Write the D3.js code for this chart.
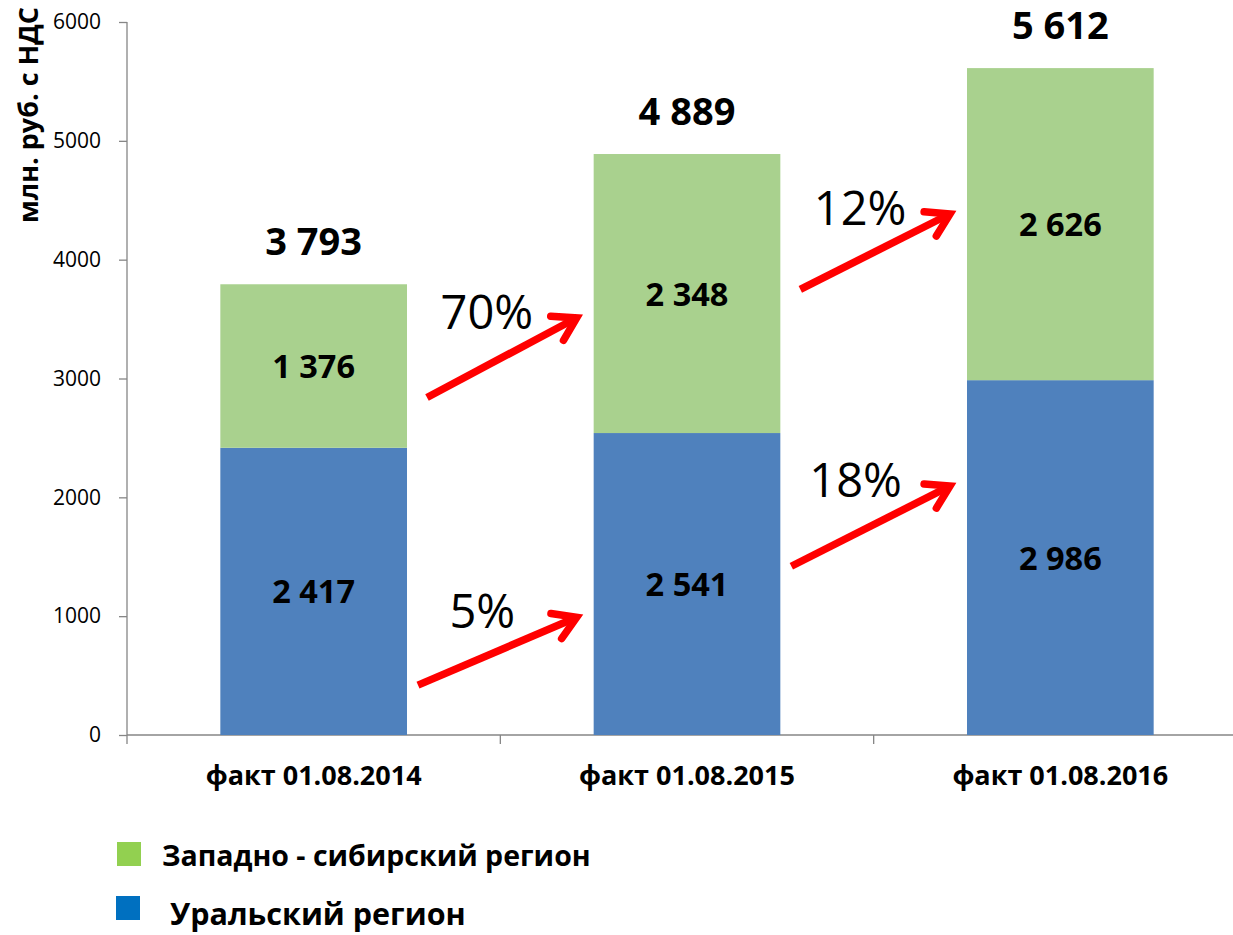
<!DOCTYPE html>
<html>
<head>
<meta charset="utf-8">
<script src="https://cdn.jsdelivr.net/npm/d3@7"></script>
<style>
  body { margin: 0; background: #fff; }
  svg { display: block; font-family: "Open Sans", "Noto Sans", sans-serif; }
</style>
</head>
<body>
<div id="chart"></div>
<script>
// data
const categories = ['факт 01.08.2014', 'факт 01.08.2015', 'факт 01.08.2016'];
const ural = [2417, 2541, 2986];
const westSib = [1376, 2348, 2626];
const totals = [3793, 4889, 5612];
const yTicks = [0, 1000, 2000, 3000, 4000, 5000, 6000];

// growth arrows: between category i and i+1, start / end value on the y scale
const arrowFrom = [0, 0, 1, 1];
const arrowY0 = [420, 2840, 1420, 3750];
const arrowY1 = [990, 3510, 2095, 4385];
const arrowLabels = ['5%', '70%', '18%', '12%'];

const W = 1233, H = 935;
const margin = {top: 22, right: -14, bottom: 200, left: 127};

const svg = d3.select('#chart').append('svg')
  .attr('width', W).attr('height', H);

const x = d3.scaleBand().domain(categories)
  .range([margin.left, W - margin.right]).paddingInner(0.5).paddingOuter(0.25);
const y = d3.scaleLinear().domain([0, 6000]).range([H - margin.bottom, margin.top]);

const fmt = v => d3.format(',')(v).replace(/,/g, ' ');

// y axis
const yAxis = svg.append('g')
  .attr('transform', 'translate(' + margin.left + ',0)')
  .call(d3.axisLeft(y).tickValues(yTicks).tickSize(8).tickPadding(18).tickFormat(d3.format('d')));
yAxis.select('.domain').attr('stroke', '#868686').attr('stroke-width', 1.3)
  .attr('d', 'M0,' + y(6000) + 'V' + y(0));
yAxis.selectAll('.tick line').attr('stroke', '#868686').attr('stroke-width', 1.3);
yAxis.selectAll('.tick text').attr('font-size', 21).attr('fill', '#000')
  .attr('font-family', '"Open Sans", sans-serif');

// x axis
const xStep = x.step();
const xAxisG = svg.append('g').attr('transform', 'translate(0,' + y(0) + ')');
xAxisG.append('line').attr('x1', margin.left).attr('x2', W)
  .attr('stroke', '#868686').attr('stroke-width', 1.3);
xAxisG.selectAll('line.tk').data(d3.range(categories.length))
  .join('line').attr('class', 'tk')
  .attr('x1', i => x(categories[i]) - xStep * 0.25)
  .attr('x2', i => x(categories[i]) - xStep * 0.25)
  .attr('y1', 0).attr('y2', 9)
  .attr('stroke', '#868686').attr('stroke-width', 1.3);
xAxisG.selectAll('text').data(categories).join('text')
  .attr('x', d => x(d) + x.bandwidth() / 2).attr('y', 50)
  .attr('text-anchor', 'middle').attr('font-size', 27).attr('font-weight', 'bold')
  .text(d => d);

// bars
const bw = x.bandwidth();
svg.append('g').selectAll('rect').data(categories).join('rect')
  .attr('x', d => x(d)).attr('width', bw)
  .attr('y', (d, i) => y(ural[i])).attr('height', (d, i) => y(0) - y(ural[i]))
  .attr('fill', '#4F81BD');
svg.append('g').selectAll('rect').data(categories).join('rect')
  .attr('x', d => x(d)).attr('width', bw)
  .attr('y', (d, i) => y(ural[i] + westSib[i]))
  .attr('height', (d, i) => y(ural[i]) - y(ural[i] + westSib[i]))
  .attr('fill', '#A9D18E');

// segment labels
const labels = svg.append('g').attr('text-anchor', 'middle')
  .attr('font-size', 32.5).attr('font-weight', 'bold').attr('fill', '#000');
categories.forEach((c, i) => {
  labels.append('text').attr('x', x(c) + bw / 2).attr('y', y(ural[i] / 2) + 12).text(fmt(ural[i]));
  labels.append('text').attr('x', x(c) + bw / 2)
    .attr('y', y(ural[i] + westSib[i] / 2) + 12).text(fmt(westSib[i]));
  labels.append('text').attr('x', x(c) + bw / 2)
    .attr('y', y(totals[i]) - 29).attr('font-size', 38).text(fmt(totals[i]));
});

// growth arrows
const arrows = svg.append('g');
arrowFrom.forEach((ci, k) => {
  const x0 = x(categories[ci]) + bw + (k % 2 === 0 ? 11 : 20);
  const x1 = x(categories[ci + 1]) - 17;
  const y0 = y(arrowY0[k]), y1 = y(arrowY1[k]);
  const ang = Math.atan2(y1 - y0, x1 - x0);
  const len = 26, spread = 0.55;
  arrows.append('line')
    .attr('x1', x0).attr('y1', y0).attr('x2', x1 - 3 * Math.cos(ang)).attr('y2', y1 - 3 * Math.sin(ang))
    .attr('stroke', '#FF0000').attr('stroke-width', 7.5);
  const p = [
    [x1 - len * Math.cos(ang - spread), y1 - len * Math.sin(ang - spread)],
    [x1, y1],
    [x1 - len * Math.cos(ang + spread), y1 - len * Math.sin(ang + spread)]
  ];
  arrows.append('path').attr('d', d3.line()(p))
    .attr('fill', 'none').attr('stroke', '#FF0000').attr('stroke-width', 7.5)
    .attr('stroke-linecap', 'round').attr('stroke-linejoin', 'miter');
  arrows.append('text')
    .attr('x', (x0 + x1) / 2 - 15).attr('y', y1 + 11)
    .attr('font-size', 47).attr('text-anchor', 'middle')
    .text(arrowLabels[k]);
});

// y title
svg.append('text')
  .attr('transform', 'translate(38,' + 115 + ') rotate(-90)')
  .attr('text-anchor', 'middle').attr('font-size', 27).attr('font-weight', 'bold')
  .text('млн. руб. с НДС');

// legend
const legendNames = ['Западно - сибирский регион', 'Уральский регион'];
const legendColors = ['#92D050', '#0070C0'];
const lg = svg.append('g');
legendNames.forEach((n, i) => {
  lg.append('rect').attr('x', 117 - i).attr('y', 842 + i * 54).attr('width', 24).attr('height', 24)
    .attr('fill', legendColors[i]);
  lg.append('text').attr('x', 162 + i * 8).attr('y', 866 + i * 59)
    .attr('font-size', i ? 30.5 : 28.5).attr('font-weight', 'bold').text(n);
});
</script>
</body>
</html>
